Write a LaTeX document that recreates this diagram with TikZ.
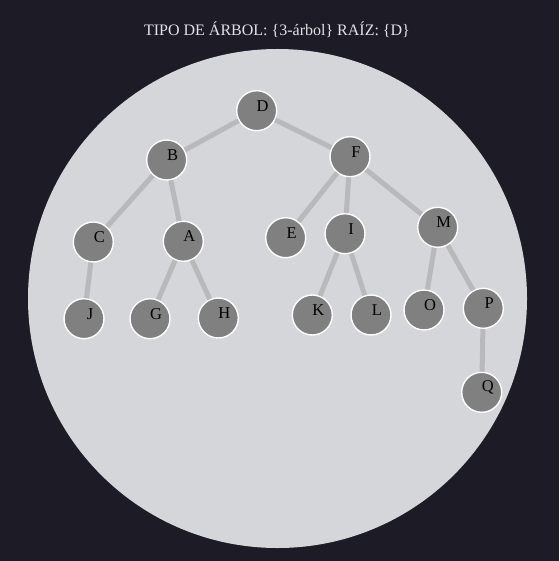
\documentclass[tikz,border=0pt]{standalone}
\usepackage{fontspec}
\setmainfont{Liberation Serif}
\usetikzlibrary{positioning}

\definecolor{pagebg}{HTML}{1C1B26}
\definecolor{discgray}{HTML}{D5D6DA}
\definecolor{vertgray}{HTML}{808080}
\definecolor{edgegray}{HTML}{B9B9BB}
\definecolor{titlegray}{HTML}{E2E2E6}

\begin{document}
\begin{tikzpicture}[x=1pt, y=-1pt,
            vert/.style={circle, draw=white, line width=1.4pt, fill=vertgray, minimum size=40pt, inner sep=0pt,
                label={[font=\fontsize{16.5}{17}\selectfont, text=black, xshift=6pt, yshift=5pt]center:#1}},
            branch/.style={draw=edgegray, line width=5pt}]
            
            \useasboundingbox (0,0) rectangle (559,561);
            \fill[pagebg] (0,0) rectangle (559,561);
            \fill[discgray] (277.5,298.5) circle[radius=249.5pt];
            
            \node[text=titlegray, font=\fontsize{16}{17}\selectfont] (title) at (277,30) {TIPO DE ÁRBOL: \{3-árbol\} RAÍZ: \{D\}};
            
            % tree vertices
            \node[vert=D] (D) at (256.7,110.7) {};
            \node[vert=B] (B) at (166.7,160) {};
            \node[vert=F] (F) at (350,156.7) {};
            \node[vert=C] (C) at (93.3,242) {};
            \node[vert=A] (A) at (183.3,241.3) {};
            \node[vert=E] (E) at (285.7,237.7) {};
            \node[vert=I] (I) at (345,233.7) {};
            \node[vert=M] (M) at (437.7,227.3) {};
            \node[vert=J] (J) at (84,318.7) {};
            \node[vert=G] (G) at (150,318.7) {};
            \node[vert=H] (H) at (218.3,318) {};
            \node[vert=K] (K) at (312.3,315) {};
            \node[vert=L] (L) at (371,315) {};
            \node[vert=O] (O) at (424,310) {};
            \node[vert=P] (P) at (483.3,308.3) {};
            \node[vert=Q] (Q) at (481.7,392.3) {};
            
            % branches
            \draw[branch] (D) -- (B);
            \draw[branch] (D) -- (F);
            \draw[branch] (B) -- (C);
            \draw[branch] (B) -- (A);
            \draw[branch] (C) -- (J);
            \draw[branch] (A) -- (G);
            \draw[branch] (A) -- (H);
            \draw[branch] (F) -- (E);
            \draw[branch] (F) -- (I);
            \draw[branch] (F) -- (M);
            \draw[branch] (I) -- (K);
            \draw[branch] (I) -- (L);
            \draw[branch] (M) -- (O);
            \draw[branch] (M) -- (P);
            \draw[branch] (P) -- (Q);
        \end{tikzpicture}
\end{document}
